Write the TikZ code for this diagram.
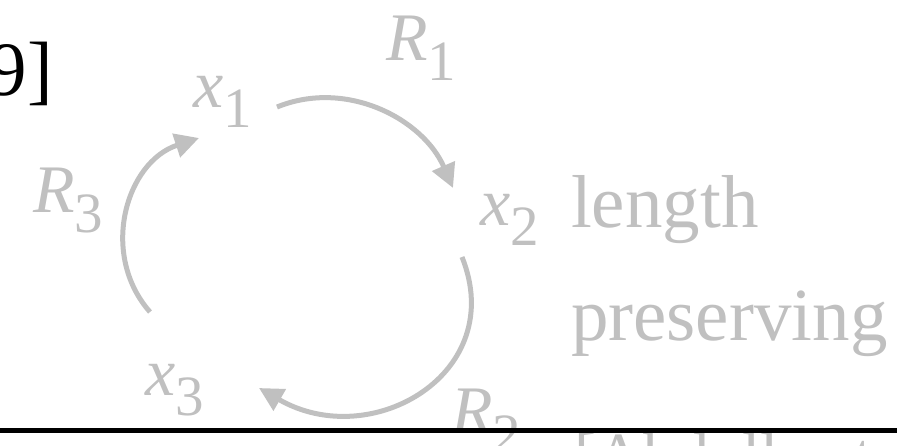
\documentclass[tikz,border=0pt]{standalone}
\usepackage{fontspec}
\setmainfont{Liberation Serif}
\usetikzlibrary{arrows.meta}
\definecolor{lg}{RGB}{192,192,192}
\newcommand\mysub[1]{\raisebox{-20pt}{\fontsize{57}{57}\selectfont #1}}
\begin{document}
\begin{tikzpicture}[x=1pt,y=-1pt,
  lbl/.style={inner sep=0pt, outer sep=0pt, anchor=base west, text=lg, font=\fontsize{68}{68}\selectfont},
  word/.style={inner sep=0pt, outer sep=0pt, anchor=base west, text=lg, font=\fontsize{75}{75}\selectfont},
  arcarrow/.style={draw=lg, line width=5pt, -{Triangle[length=24pt,width=24pt]}}]
\useasboundingbox (0,0) rectangle (897,445);
\clip (0,0) rectangle (897,445);
% citation fragment
\node[inner sep=0pt, outer sep=0pt, anchor=base east, font=\fontsize{77}{77}\selectfont] (cite) at (53,95) {9]};
% labels
\node[lbl] (x1) at (193,107) {\textit{x}\mysub{1}};
\node[lbl] (x2) at (480,225) {\textit{x}\mysub{2}};
\node[lbl] (x3) at (145,395) {\textit{x}\mysub{3}};
\node[lbl] (R1) at (386,60) {\textit{R}\mysub{1}};
\node[lbl] (R3) at (33,212) {\textit{R}\mysub{3}};
\node[lbl] (R2) at (451,433) {\textit{R}\mysub{2}};
\node[word] (len) at (571,227) {length};
\node[word] (pres) at (571,340) {preserving};
\node[inner sep=0pt, outer sep=0pt, anchor=base west, text=lg, font=\fontsize{66}{66}\selectfont] (ref) at (574,478) {[Abdulla et a};
% arc end points
\coordinate (r1s) at (277,107);
\coordinate (r1e) at (453,188);
\coordinate (r2s) at (462,257);
\coordinate (r2e) at (259,388);
\coordinate (r3s) at (150,312);
\coordinate (r3e) at (199,138);
\draw[arcarrow] (r1s) .. controls (346.5,78.7) and (423,119) .. (r1e);
\draw[arcarrow] (r2s) .. controls (508.6,373) and (371.6,453) .. (r2e);
\draw[arcarrow] (r3s) .. controls (99,254) and (126,162) .. (r3e);
% rule
\coordinate (bl) at (0,430.5);
\coordinate (br) at (897,430.5);
\draw[line width=5pt] (bl) -- (br);
\end{tikzpicture}
\end{document}
